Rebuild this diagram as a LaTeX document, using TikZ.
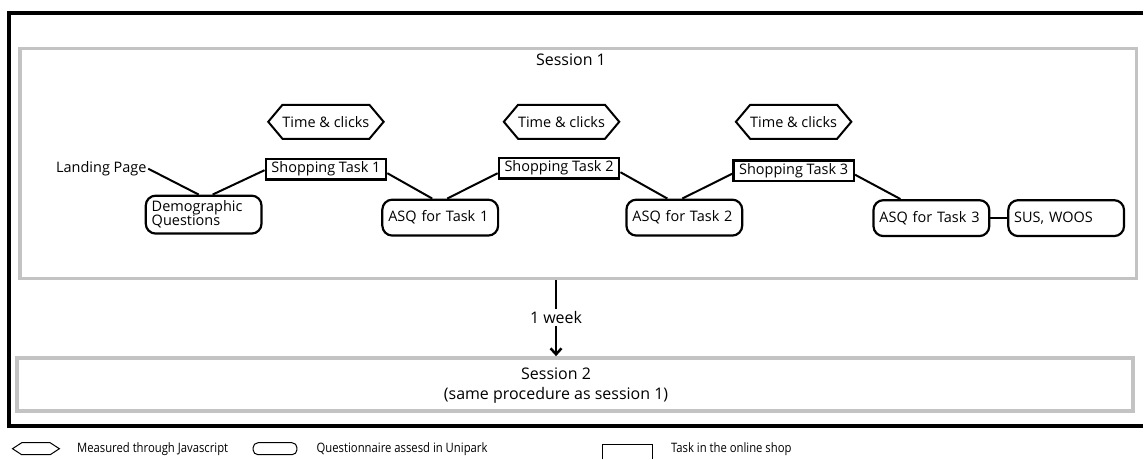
\documentclass[tikz,border=0pt]{standalone}
\usepackage{fontspec}
\setmainfont{Open Sans}
\usetikzlibrary{shapes.symbols, arrows.meta}
\definecolor{boxgray}{RGB}{195,195,195}
\begin{document}
\begin{tikzpicture}[x=1pt,y=-1pt,
  conn/.style={line width=2pt},
  nodefont/.style={font=\fontsize{14.5}{16}\selectfont},
  taskbox/.style={nodefont, draw, line width=2.5pt, inner sep=0pt, minimum height=20.5pt, minimum width=120.5pt},
  quest/.style={nodefont, draw, line width=2.2pt, rounded corners=10pt, inner xsep=6pt, inner ysep=0pt, text width=104pt, align=left, minimum height=36pt},
  hexa/.style={nodefont, signal, signal to=east and west, signal from=nowhere, signal pointer angle=100, draw, line width=2pt, inner sep=0pt, minimum width=115pt, minimum height=34pt},
  sessbox/.style={draw=boxgray, line width=3.5pt, inner sep=0pt},
  sessfont/.style={font=\fontsize{16}{20}\selectfont},
  legfont/.style={font=\fontsize{13}{15}\selectfont, anchor=west, inner sep=0pt}
]
\fill[white] (0,0) rectangle (1145,460);

% outer frame (open on the right, cut by the picture edge)
\draw[line width=4pt] (1145,13) -- (9,13) -- (9,426.5) -- (1145,426.5);

% session boxes
\node[sessbox, minimum width=1118.5pt, minimum height=230.5pt] (s1) at (579.25,163.75) {};
\node[sessbox, minimum width=1118pt, minimum height=53pt] (s2) at (576,385) {};
\node[sessfont] (s1lab) at (572,60) {Session 1};
\node[sessfont, align=center] (s2lab) at (557,386) {Session 2\\(same procedure as session 1)};

% measurements
\node[hexa] (h1) at (326.5,122) {Time \& clicks};
\node[hexa] (h2) at (562.5,122) {Time \& clicks};
\node[hexa] (h3) at (795,122) {Time \& clicks};

% tasks
\node[taskbox] (st1) at (326.5,169.5) {Shopping Task 1};
\node[taskbox] (st2) at (560,168.5) {Shopping Task 2};
\node[taskbox] (st3) at (795,171) {Shopping Task 3};

% questionnaires
\node[quest, minimum height=38pt] (demo) at (204,215) {Demographic\\[-2pt]Questions};
\node[quest] (asq1) at (441,218) {ASQ for Task 1};
\node[quest] (asq2) at (685.5,218) {ASQ for Task 2};
\node[quest] (asq3) at (933,218.5) {ASQ for Task 3};
\node[quest] (sus) at (1068,218.5) {SUS, WOOS};

\node[nodefont, inner sep=1.5pt] (landing) at (101.5,169) {Landing Page};

% connectors
\draw[conn] (landing.east) -- ([xshift=-5pt]demo.north);
\draw[conn] ([xshift=9pt]demo.north) -- ([yshift=-1pt]st1.west);
\draw[conn] ([yshift=-4pt]st1.east) -- ([xshift=-8pt]asq1.north);
\draw[conn] ([xshift=7pt]asq1.north) -- ([yshift=-5pt]st2.west);
\draw[conn] ([yshift=-4pt]st2.east) -- ([xshift=-17pt]asq2.north);
\draw[conn] ([xshift=-2pt]asq2.north) -- ([yshift=-3pt]st3.west);
\draw[conn] ([yshift=-4pt]st3.east) -- ([xshift=-31pt]asq3.north);
\draw[conn] (asq3.east) -- (sus.west);

% week arrow
\node[sessfont, fill=white, inner sep=2pt] (wk) at (557,318) {1 week};
\draw[line width=2.5pt] (wk.north) -- (wk.north |- s1.south);
\draw[line width=2.5pt, -{Straight Barb[length=6pt,width=11pt]}] (wk.south) -- (wk.south |- s2.north);

% legend
\node[signal, signal to=east and west, signal from=nowhere, signal pointer angle=66, draw, line width=1pt, inner sep=0pt, minimum width=47pt, minimum height=12pt] (lh) at (36,449.5) {};
\node[legfont] (lht) at (77,449.5) {\scalebox{0.87}[1]{Measured through Javascript}};
\node[draw, line width=1pt, rounded corners=5pt, inner sep=0pt, minimum width=44pt, minimum height=12pt] (lq) at (275.5,449.5) {};
\node[legfont] (lqt) at (317,449.5) {\scalebox{0.87}[1]{Questionnaire assesd in Unipark}};
\node[inner sep=0pt, minimum width=50pt, minimum height=15pt] (lt) at (628.5,452.5) {};
\draw[line width=1pt] (lt.south west) -- (lt.north west) -- (lt.north east) -- (lt.south east);
\node[legfont] (ltt) at (672,449.5) {\scalebox{0.87}[1]{Task in the online shop}};
\end{tikzpicture}
\end{document}
